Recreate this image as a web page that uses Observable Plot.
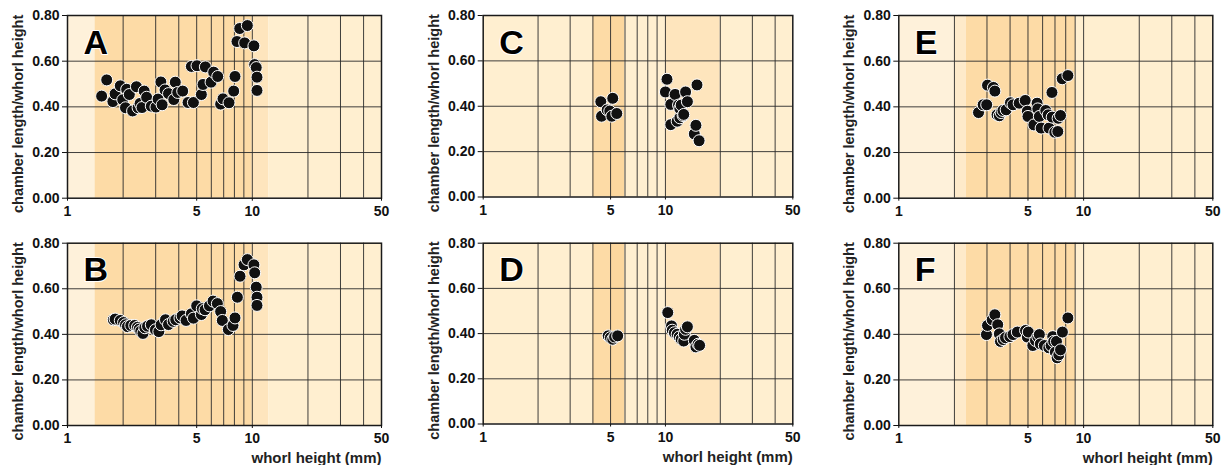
<!DOCTYPE html>
<html><head><meta charset="utf-8">
<script src="https://cdn.jsdelivr.net/npm/d3@7"></script>
<script src="https://cdn.jsdelivr.net/npm/@observablehq/plot@0.6"></script>
<style>
body{margin:0;background:#fff;}
#chart{position:relative;width:1227px;height:465px;font-family:"Liberation Sans",Arial,sans-serif;}
#chart > .panel{position:absolute;}
</style></head><body><div id="chart"></div>
<script>
// ---------- data ----------
const xTitle = "whorl height (mm)";
const yTitle = "chamber length/whorl height";
const xTickValues = [1, 5, 10, 50];
const yTickValues = [0, 0.2, 0.4, 0.6, 0.8];
const xGridValues = [2, 3, 4, 5, 6, 7, 8, 9, 10, 20, 30, 40];
const yGridValues = [0.2, 0.4, 0.6];

const xA = [1.53,1.63,1.76,1.81,1.93,1.99,2.06,2.09,2.16,2.25,2.36,2.41,2.47,2.53,2.60,2.68,2.84,3.01,3.09,3.20,3.25,3.37,3.52,3.76,3.83,3.95,4.20,4.49,4.68,4.80,5.02,5.30,5.41,5.57,5.98,6.18,6.50,6.74,6.94,7.48,7.93,8.06,8.26,8.55,9.09,9.40,10.2,10.3,10.5,10.6,10.6];
const yA = [0.447,0.518,0.423,0.457,0.492,0.431,0.396,0.477,0.454,0.382,0.488,0.396,0.415,0.397,0.469,0.442,0.403,0.399,0.434,0.509,0.409,0.474,0.458,0.432,0.508,0.463,0.469,0.419,0.577,0.419,0.580,0.454,0.498,0.575,0.508,0.552,0.533,0.412,0.435,0.418,0.469,0.533,0.686,0.743,0.680,0.756,0.667,0.585,0.572,0.530,0.472];

const xB = [1.77,1.81,1.93,2.01,2.06,2.11,2.20,2.31,2.39,2.44,2.49,2.56,2.62,2.71,2.84,2.99,3.12,3.21,3.39,3.52,3.73,3.85,4.06,4.17,4.38,4.68,4.80,5.00,5.30,5.36,5.55,5.86,6.13,6.47,6.74,6.88,7.42,7.86,8.06,8.30,8.58,9.02,9.40,10.2,10.3,10.5,10.6,10.6];
const yB = [0.464,0.467,0.461,0.452,0.442,0.434,0.439,0.439,0.431,0.423,0.414,0.404,0.429,0.436,0.442,0.420,0.412,0.442,0.464,0.443,0.457,0.464,0.472,0.481,0.461,0.490,0.471,0.525,0.487,0.513,0.508,0.525,0.546,0.535,0.500,0.461,0.421,0.439,0.472,0.563,0.655,0.705,0.728,0.705,0.670,0.607,0.563,0.527];

const xC = [4.42,4.46,4.79,4.95,5.08,5.14,5.41,10.0,10.2,10.7,10.7,11.3,11.6,11.8,12.0,12.0,12.2,12.5,12.6,12.9,13.2,14.4,14.7,14.9,15.3];
const yC = [0.420,0.356,0.384,0.379,0.356,0.435,0.368,0.463,0.519,0.408,0.319,0.452,0.334,0.405,0.349,0.390,0.405,0.359,0.364,0.463,0.420,0.278,0.316,0.494,0.248];

const xD = [4.85,4.99,5.14,5.26,5.47,10.3,10.8,10.9,11.2,11.6,11.9,12.2,12.6,12.7,12.9,13.2,14.4,14.7,15.1,15.4];
const yD = [0.390,0.382,0.375,0.385,0.390,0.493,0.434,0.415,0.404,0.397,0.385,0.375,0.367,0.397,0.419,0.430,0.370,0.341,0.353,0.348];

const xE = [2.70,2.86,2.99,3.02,3.25,3.31,3.40,3.50,3.58,3.66,3.81,4.02,4.15,4.48,4.83,4.96,5.00,5.38,5.60,5.65,5.76,5.89,6.24,6.43,6.50,6.74,6.76,6.98,7.25,7.28,7.50,7.66,8.22];
const yE = [0.375,0.409,0.409,0.495,0.485,0.469,0.365,0.361,0.375,0.384,0.387,0.418,0.409,0.416,0.428,0.381,0.358,0.321,0.416,0.391,0.358,0.307,0.384,0.365,0.307,0.463,0.355,0.289,0.292,0.350,0.362,0.523,0.537];

const xF = [2.98,3.02,3.20,3.31,3.43,3.50,3.55,3.67,3.78,3.99,4.15,4.38,4.85,4.96,5.02,5.31,5.49,5.65,5.76,5.83,6.13,6.48,6.67,6.81,6.89,7.03,7.13,7.19,7.34,7.50,7.68,8.22];
const yF = [0.399,0.439,0.464,0.486,0.442,0.402,0.369,0.377,0.385,0.390,0.399,0.410,0.417,0.388,0.410,0.351,0.373,0.390,0.399,0.358,0.351,0.341,0.351,0.390,0.369,0.322,0.369,0.297,0.310,0.332,0.410,0.472];

// shaded whorl-height ranges (shade category)
const bandsAB = [{from:1,to:1.41,shade:"pale"},{from:1.41,to:10,shade:"mid"},{from:10,to:12.3,shade:"soft"},{from:12.3,to:50,shade:"base"}];
const bandsCD = [{from:1,to:4,shade:"base"},{from:4,to:5,shade:"mid"},{from:5,to:6,shade:"dark"},{from:6,to:10,shade:"base"},{from:10,to:20,shade:"soft"},{from:20,to:50,shade:"base"}];
const bandsEF = [{from:1,to:2,shade:"pale"},{from:2,to:2.32,shade:"light"},{from:2.32,to:9.05,shade:"mid"},{from:9.05,to:50,shade:"base"}];

// ---------- drawing ----------
const shadeColors = {pale:"#fef1da", base:"#ffefd0", light:"#feeaca", soft:"#fee5bd", mid:"#fddba6", dark:"#fcd79e"};

const panels = [
  {letter:"A", xs:xA, ys:yA, bands:bandsAB, left:0,   top:0,   width:410, height:230, ml:67,   mr:29,   mt:15,   mb:32.3, bottom:false},
  {letter:"B", xs:xB, ys:yB, bands:bandsAB, left:0,   top:230, width:410, height:235, ml:67,   mr:29,   mt:12.7, mb:40,   bottom:true},
  {letter:"C", xs:xC, ys:yC, bands:bandsCD, left:410, top:0,   width:410, height:230, ml:72.7, mr:27.7, mt:15,   mb:33.5, bottom:false},
  {letter:"D", xs:xD, ys:yD, bands:bandsCD, left:410, top:230, width:410, height:235, ml:72.7, mr:27.7, mt:12.7, mb:41.5, bottom:true},
  {letter:"E", xs:xE, ys:yE, bands:bandsEF, left:820, top:0,   width:407, height:230, ml:78.3, mr:14.7, mt:15,   mb:32.3, bottom:false},
  {letter:"F", xs:xF, ys:yF, bands:bandsEF, left:820, top:230, width:407, height:235, ml:78.3, mr:14.7, mt:12.7, mb:40,   bottom:true}
];

const chart = document.getElementById("chart");
for (const p of panels) {
  const pts = p.xs.map((x, i) => ({x, y: p.ys[i]}));
  const marks = [
    Plot.rect(p.bands, {x1:"from", x2:"to", y1:0, y2:0.8, fill: d => shadeColors[d.shade]}),
    Plot.gridX(xGridValues, {stroke:"#2a2a2a", strokeOpacity:1, strokeWidth:0.9}),
    Plot.gridY(yGridValues, {stroke:"#2a2a2a", strokeOpacity:1, strokeWidth:0.9}),
    Plot.frame({stroke:"#1a1a1a", strokeWidth:1.5}),
    Plot.axisY(yTickValues, {tickFormat: d3.format(".2f"), tickSize:5, tickPadding:3, label:null, fontSize:14, fontWeight:"bold"}),
    Plot.axisX(xTickValues, {tickSize:3, tickFormat: () => "", label:null}),
    Plot.text(xTickValues, {x: d => d, frameAnchor:"bottom", lineAnchor:"top", dy:8, text: d => String(d), fontSize:14, fontWeight:"bold", fill:"#111"}),
    Plot.text([yTitle], {frameAnchor:"left", textAnchor:"middle", lineAnchor:"middle", rotate:-90, dx:-49, dy:7, fontSize:14.5, fontWeight:"bold", fill:"#222", text: d => d}),
    Plot.dot(pts, {x:"x", y:"y", r:6, fill:"#111", stroke:"white", strokeWidth:1}),
    Plot.text([p.letter], {frameAnchor:"top-left", dx:16, dy:14, textAnchor:"start", lineAnchor:"top", fontSize:34, fontWeight:"bold", fill:"#000", stroke:"white", strokeWidth:2, paintOrder:"stroke", text: d => d})
  ];
  if (p.bottom) {
    marks.push(Plot.text([xTitle], {frameAnchor:"bottom-right", dy:33, textAnchor:"end", lineAnchor:"middle", fontSize:15, fontWeight:"bold", fill:"#222", text: d => d}));
  }
  const svg = Plot.plot({
    width: p.width, height: p.height,
    marginLeft: p.ml, marginRight: p.mr, marginTop: p.mt, marginBottom: p.mb,
    x: {type:"log", domain:[1, 50]},
    y: {domain:[0, 0.8]},
    style: {fontFamily:"'Liberation Sans', Arial, sans-serif", fontWeight:"bold", fontSize:"13px", color:"#111", background:"transparent", overflow:"visible"},
    marks
  });
  const wrap = document.createElement("div");
  wrap.className = "panel";
  wrap.style.left = p.left + "px";
  wrap.style.top = p.top + "px";
  wrap.appendChild(svg);
  chart.appendChild(wrap);
}
</script></body></html>
